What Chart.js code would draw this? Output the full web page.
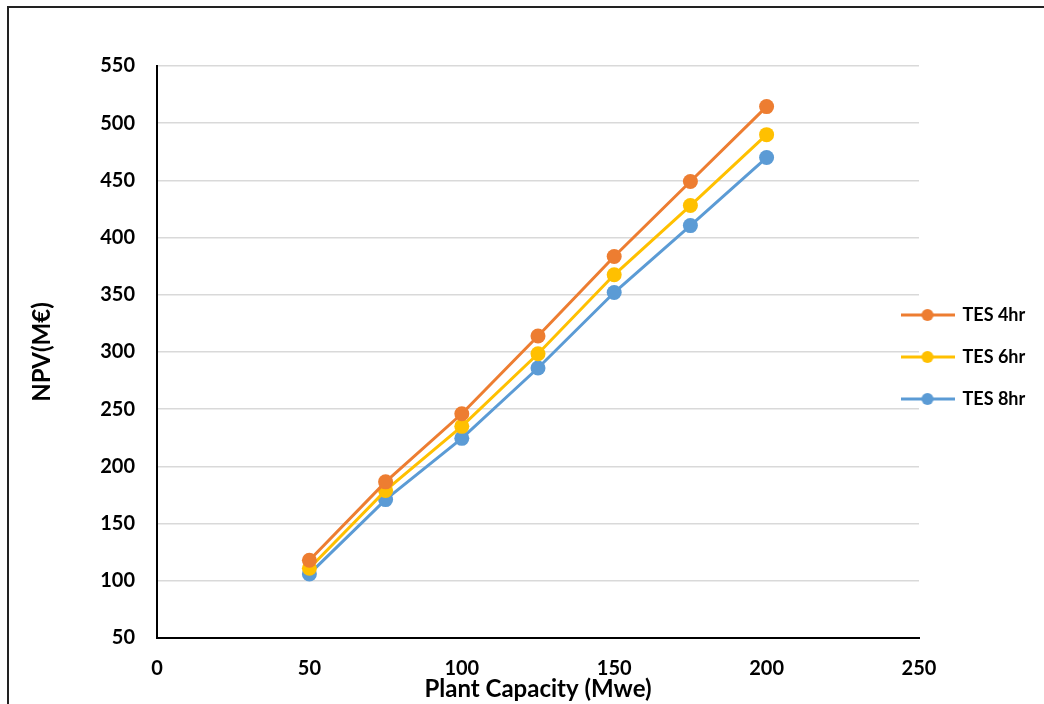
<!DOCTYPE html>
<html>
<head>
<meta charset="utf-8">
<script src="https://cdn.jsdelivr.net/npm/chart.js@4/dist/chart.umd.min.js"></script>
<style>
  html, body { margin: 0; padding: 0; background: #fff; }
  #wrap { width: 1044px; height: 704px; position: relative; }
</style>
</head>
<body>
<div id="wrap"><canvas id="c" width="1044" height="704"></canvas></div>
<script>
// Plant capacity (MWe) and NPV (M€) for three thermal storage durations
const capacities = [50, 75, 100, 125, 150, 175, 200];
const npvTes4 = [118, 186.5, 246, 314, 383.5, 449, 514.5];
const npvTes6 = [111, 179, 235, 298.5, 367.5, 428, 490];
const npvTes8 = [106, 171, 224.5, 286, 352, 410.5, 470];
const seriesLabels = ['TES 4hr', 'TES 6hr', 'TES 8hr'];
const seriesColors = ['#ED7D31', '#FFC000', '#5B9BD5'];
const xTicks = [0, 50, 100, 150, 200, 250];
const yTicks = [50, 100, 150, 200, 250, 300, 350, 400, 450, 500, 550];

const FONT = 'Lato, "Open Sans", "DejaVu Sans", sans-serif';

// Legend swatch: a short line with a round marker in the middle
function legendSwatch(color) {
  const c = document.createElement('canvas');
  c.width = 54; c.height = 14;
  const g = c.getContext('2d');
  g.strokeStyle = color; g.lineWidth = 3;
  g.beginPath(); g.moveTo(0, 7); g.lineTo(54, 7); g.stroke();
  g.fillStyle = color;
  g.beginPath(); g.arc(27, 7, 6, 0, Math.PI * 2); g.fill();
  return c;
}

function toPoints(ys) {
  return capacities.map((x, i) => ({ x: x, y: ys[i] }));
}

const allSeries = [npvTes4, npvTes6, npvTes8];
const datasets = allSeries.map((ys, i) => ({
  label: seriesLabels[i],
  data: toPoints(ys),
  borderColor: seriesColors[i],
  backgroundColor: seriesColors[i],
  borderWidth: 3,
  pointRadius: 7.5,
  pointHoverRadius: 7.5,
  pointBorderWidth: 0,
  pointStyle: 'circle',
  showLine: true,
  tension: 0
}));

// Page background and the frame along the top and left edges
const framePlugin = {
  id: 'frame',
  beforeDraw(chart) {
    const ctx = chart.ctx;
    ctx.save();
    ctx.fillStyle = '#fff';
    ctx.fillRect(0, 0, chart.width, chart.height);
    ctx.strokeStyle = '#222';
    ctx.lineWidth = 2;
    ctx.beginPath();
    ctx.moveTo(8, chart.height);
    ctx.lineTo(8, 7);
    ctx.lineTo(chart.width, 7);
    ctx.stroke();
    ctx.restore();
  }
};

// The legend sits slightly over the right end of the plot area
const legendShift = {
  id: 'legendShift',
  afterLayout(chart) {
    const lg = chart.legend;
    if (!lg) return;
    lg.left -= 41.5;
    lg.top -= 28;
    lg.bottom -= 28;
  }
};

new Chart(document.getElementById('c'), {
  type: 'scatter',
  data: { datasets: datasets },
  plugins: [framePlugin, legendShift],
  options: {
    responsive: false,
    animation: false,
    layout: { padding: { left: 10, top: 66, right: 0, bottom: 0 } },
    plugins: {
      tooltip: { enabled: false },
      legend: {
        position: 'right',
        maxWidth: 125,
        labels: {
          usePointStyle: true,
          pointStyleWidth: 52,
          padding: 24,
          color: '#000',
          font: { family: FONT, size: 18, weight: 'bold' },
          generateLabels(chart) {
            return chart.data.datasets.map((ds, i) => ({
              text: ds.label,
              fillStyle: ds.backgroundColor,
              strokeStyle: ds.borderColor,
              lineWidth: 0,
              pointStyle: legendSwatch(ds.borderColor),
              fontColor: '#000',
              hidden: false,
              datasetIndex: i
            }));
          }
        }
      }
    },
    scales: {
      x: {
        type: 'linear',
        min: 0, max: 250,
        afterBuildTicks(scale) { scale.ticks = xTicks.map(v => ({ value: v })); },
        afterFit(scale) { scale.height = 66; },
        grid: { display: false, drawTicks: false },
        border: { display: true, color: '#000', width: 2 },
        ticks: {
          padding: 19,
          color: '#000',
          font: { family: FONT, size: 20, weight: 'bold' },
          maxRotation: 0
        },
        title: {
          display: true,
          text: 'Plant Capacity (Mwe)',
          color: '#000',
          font: { family: FONT, size: 24, weight: 'bold' },
          padding: { top: 0, bottom: 0 }
        }
      },
      y: {
        type: 'linear',
        min: 50, max: 550,
        afterBuildTicks(scale) { scale.ticks = yTicks.map(v => ({ value: v })); },
        afterFit(scale) { scale.width = 147; },
        grid: { color: '#d9d9d9', lineWidth: 1.5, drawTicks: false },
        border: { display: true, color: '#000', width: 2 },
        ticks: {
          padding: 22,
          color: '#000',
          font: { family: FONT, size: 20, weight: 'bold' }
        },
        title: {
          display: true,
          text: 'NPV(M€)',
          color: '#000',
          font: { family: FONT, size: 24, weight: 'bold' },
          padding: { top: 18, bottom: 0 }
        }
      }
    }
  }
});
</script>
</body>
</html>
